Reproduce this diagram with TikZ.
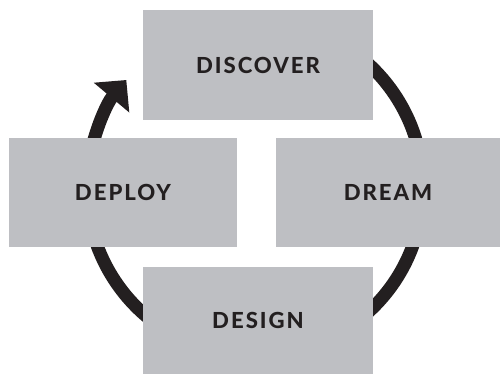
\documentclass[tikz,border=0pt]{standalone}
\usepackage{fontspec}
\usepackage{xcolor}
\usepackage{tikz}
\usetikzlibrary{arrows.meta,calc}

\newfontfamily\stagefont{Lato}[LetterSpace=9,BoldFont={Lato Heavy}]
\definecolor{boxgrey}{RGB}{190,191,195}
\definecolor{ink}{RGB}{35,31,32}

\begin{document}
\begin{tikzpicture}[x=0.02cm,y=-0.02cm,
  stage/.style={fill=boxgrey,inner sep=0pt,text=ink,font=\stagefont\bfseries\fontsize{12.6}{15}\selectfont},
  cycle/.style={line width=0.26cm,draw=ink,-{Triangle[width=0.9cm,length=0.46cm]}}]
\useasboundingbox (0,0) rectangle (500,374);
% loop behind the boxes
\coordinate (hub) at (255,188);
\draw[cycle] ($(hub)+(-80:168)$) arc[start angle=-80,end angle=220,radius=168];
% the four stages
\node[stage,minimum width=4.6cm,minimum height=2.2cm] (discover) at (258,65) {DISCOVER};
\node[stage,minimum width=4.56cm,minimum height=2.18cm] (deploy) at (123,192.5) {DEPLOY};
\node[stage,minimum width=4.48cm,minimum height=2.18cm] (dream) at (388,192.5) {DREAM};
\node[stage,minimum width=4.6cm,minimum height=2.14cm] (design) at (258,320.5) {DESIGN};
\end{tikzpicture}
\end{document}
